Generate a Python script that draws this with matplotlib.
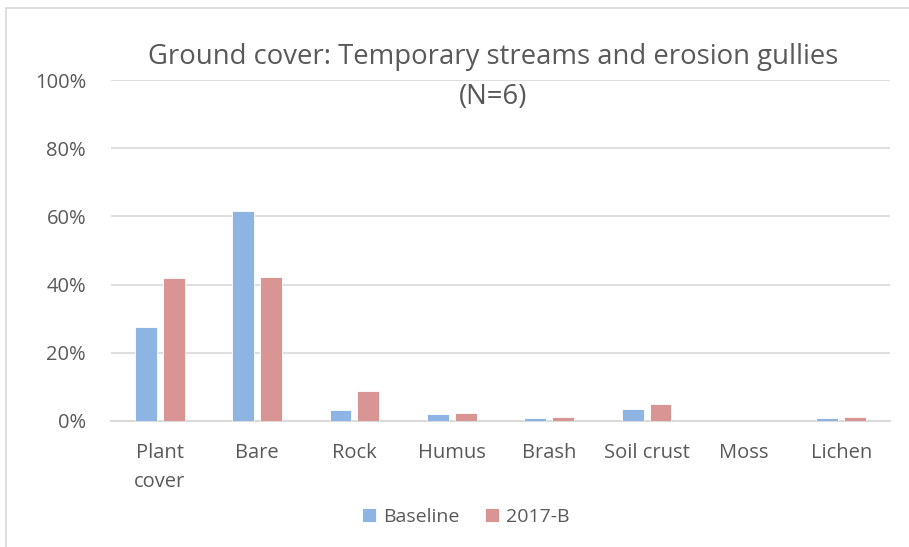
import matplotlib
matplotlib.use("Agg")
import matplotlib.pyplot as plt
import numpy as np
from matplotlib.patches import Rectangle

categories = ["Plant\ncover", "Bare", "Rock", "Humus", "Brash", "Soil crust", "Moss", "Lichen"]
baseline = [27.5, 61.6, 3.2, 2.0, 0.8, 3.5, 0.0, 0.8]
b2017 = [41.9, 42.1, 8.8, 2.3, 1.2, 5.0, 0.0, 1.2]
series_names = ["Baseline", "2017-B"]
yticks = [0, 20, 40, 60, 80, 100]
ytick_labels = ["0%", "20%", "40%", "60%", "80%", "100%"]

W, H = 909, 547
plt.rcParams['font.family'] = ['Open Sans', 'DejaVu Sans']
fig = plt.figure(figsize=(W / 100, H / 100), dpi=100)
fig.patch.set_facecolor("white")

# outer chart frame
fig.patches.append(Rectangle((6 / W, -0.05), 1.1, 1 - 8 / H + 0.05, transform=fig.transFigure,
                             fill=False, edgecolor="#d9d9d9", linewidth=1.2))

left, right = 111 / W, 890 / W
bottom, top = 1 - 421 / H, 1 - 80 / H
ax = fig.add_axes([left, bottom, right - left, top - bottom])

x = np.arange(len(categories))
off = 0.143
w = 0.225
c1, c2 = "#8eb4e3", "#d99594"
ax.bar(x - off, baseline, w, color=c1, edgecolor="white", linewidth=0.6, label=series_names[0], zorder=3)
ax.bar(x + off, b2017, w, color=c2, edgecolor="white", linewidth=0.6, label=series_names[1], zorder=3)

ax.set_xlim(-0.5, len(categories) - 0.5)
ax.set_ylim(0, 100)
ax.set_yticks(yticks)
ax.set_yticklabels(ytick_labels)
ax.set_xticks(x)
ax.set_xticklabels(categories, linespacing=1.6, va="top")
ax.tick_params(axis="both", length=0, colors="#595959", labelsize=14.5)
ax.tick_params(axis="y", pad=18)
ax.tick_params(axis="x", pad=16)
ax.grid(axis="y", color="#d9d9d9", linewidth=1.2, zorder=0)
for s in ["top", "right", "left"]:
    ax.spines[s].set_visible(False)
ax.spines["bottom"].set_color("#d9d9d9")
ax.spines["bottom"].set_linewidth(1.4)

fig.text(493 / W, 1 - 57 / H, "Ground cover: Temporary streams and erosion gullies",
         ha="center", va="center", fontsize=19.8, color="#595959")
fig.text(493 / W, 1 - 97 / H, "(N=6)", ha="center", va="center", fontsize=19.8, color="#595959")

leg = fig.legend(loc="center", bbox_to_anchor=(466 / W, 1 - 517 / H), ncol=2, frameon=False,
                 fontsize=14, handlelength=0.7, handleheight=0.7, handletextpad=0.4,
                 columnspacing=1.3, labelcolor="#595959")

fig.savefig("out.png", dpi=100)
